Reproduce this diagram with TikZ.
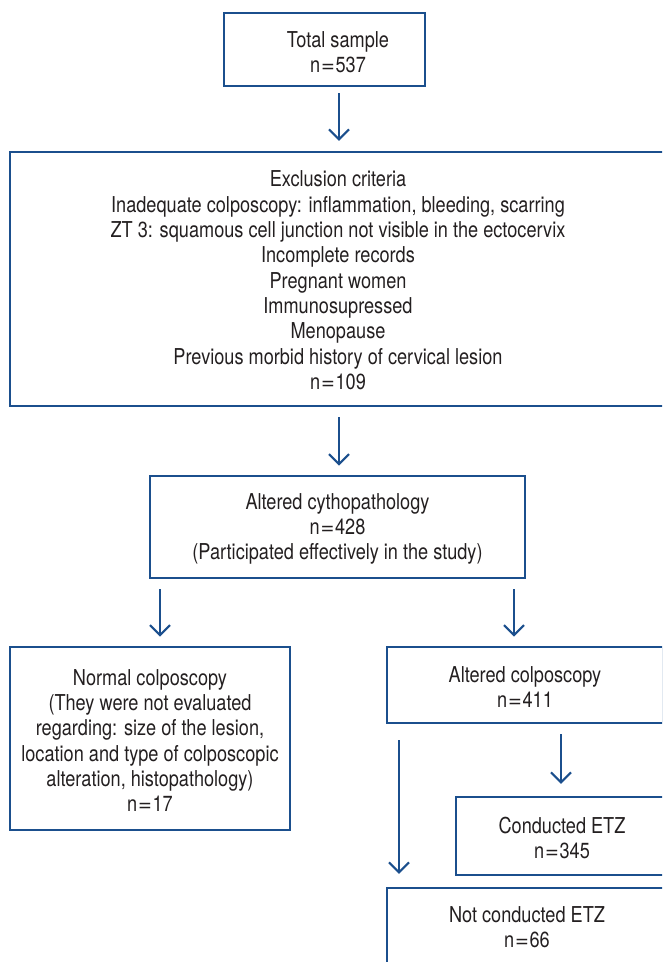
\documentclass[tikz,border=0pt]{standalone}
\usepackage{fontspec}
\usepackage{graphicx}
\setmainfont{TeX Gyre Heros}[FakeStretch=0.83]
\usetikzlibrary{arrows.meta}
\definecolor{fblue}{HTML}{1B4F8D}
\definecolor{ftext}{HTML}{231F20}
\newcommand\myeq{\kern0.6pt\scalebox{1.3}[1]{=}\kern0.6pt}
\tikzset{
  boxst/.style={draw=fblue, line width=1.6pt, rectangle, inner sep=0pt},
  txt/.style={align=center, text=ftext, font=\fontsize{16.4pt}{19pt}\selectfont, inner sep=0pt},
  arr/.style={draw=fblue, line width=1.6pt, -{Straight Barb[length=7.5pt,width=15pt,line width=1.6pt]}},
}
\begin{document}
\begin{tikzpicture}[x=0.75pt,y=-0.75pt]
\useasboundingbox (0,0) rectangle (662,962);
\clip (0,0) rectangle (662,962);
% boxes
\node[boxst, minimum width=150.75pt, minimum height=54.75pt] (total) at (324.5,49.5) {};
\node[boxst, minimum width=492pt, minimum height=190.5pt] (excl) at (338,279) {};
\node[boxst, minimum width=281.25pt, minimum height=76.5pt] (cyto) at (337.5,527) {};
\node[boxst, minimum width=210pt, minimum height=137.25pt] (normal) at (150,738.5) {};
\node[boxst, minimum width=207pt, minimum height=57pt] (altcol) at (525,685) {};
\node[boxst, minimum width=159pt, minimum height=58.5pt] (cond) at (562,836) {};
\node[boxst, minimum width=210pt, minimum height=58.5pt] (notcond) at (527,927) {};
% texts
\node[txt] (ttotal) at (338,52) {Total sample\\n\myeq537};
\node[txt] (texcl) at (338,280.5) {Exclusion criteria\\Inadequate colposcopy: inflammation, bleeding, scarring\\ZT 3: squamous cell junction not visible in the ectocervix\\Incomplete records\\Pregnant women\\Immunosupressed\\Menopause\\Previous morbid history of cervical lesion\\n\myeq109};
\node[txt] (tcyto) at (337.5,529) {Altered cythopathology\\n\myeq428\\(Participated effectively in the study)};
\node[txt] (tnormal) at (150,740.5) {Normal colposcopy\\(They were not evaluated\\regarding: size of the lesion,\\location and type of colposcopic\\alteration, histopathology)\\n\myeq17};
\node[txt] (taltcol) at (525,687) {Altered colposcopy\\n\myeq411};
\node[txt] (tcond) at (562,838) {Conducted ETZ\\n\myeq345};
\node[txt] (tnotcond) at (527,927.5) {Not conducted ETZ\\n\myeq66};
% arrow columns
\coordinate (c1) at (339,0);
\coordinate (c3) at (160,0);
\coordinate (c4) at (514,0);
\coordinate (c5) at (561,0);
\coordinate (c6) at (399,0);
\draw[arr, shorten <=4.5pt, shorten >=7.5pt] (total.south -| c1) -- (excl.north -| c1);
\draw[arr, shorten <=7.5pt, shorten >=7pt] (excl.south -| c1) -- (cyto.north -| c1);
\draw[arr, shorten <=7.5pt, shorten >=7pt] (cyto.south -| c3) -- (normal.north -| c3);
\draw[arr, shorten <=7.5pt, shorten >=7pt] (cyto.south -| c4) -- (altcol.north -| c4);
\draw[arr, shorten <=7.5pt, shorten >=9pt] (altcol.south -| c5) -- (cond.north -| c5);
\draw[arr, shorten <=12pt, shorten >=9.75pt] (altcol.south -| c6) -- (notcond.north -| c6);
\end{tikzpicture}
\end{document}
